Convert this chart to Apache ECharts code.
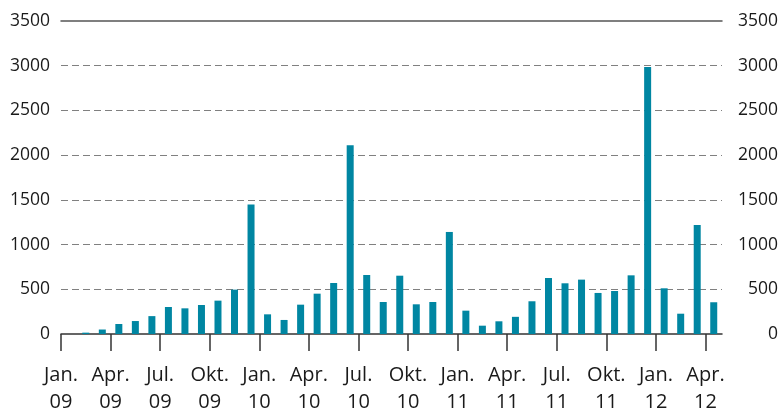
<!DOCTYPE html>
<html>
<head>
<meta charset="UTF-8">
<title>Chart</title>
<script type="text/javascript" src="https://cdn.jsdelivr.net/npm/echarts@6/dist/echarts.min.js"></script>
</head>
<body style="margin:0;background:#fff;">
<div id="box" style="width:779px;height:412px;"></div>

<script type="text/javascript">
// month names and years for the category axis
var monthNames=['Jan.','Feb.','Mär.','Apr.','Mai','Jun.','Jul.','Aug.','Sep.','Okt.','Nov.','Dez.'];
var years=['09','10','11','12'];
var monthCount=40; // Jan 09 .. Apr 12

// monthly values
var values=[0,15,50,112,145,200,302,287,324,373,496,1447,
            220,157,328,451,570,2110,660,358,652,332,358,1141,
            261,93,142,192,366,626,567,608,459,481,656,2987,
            511,227,1219,355];

var yTicks=[0,500,1000,1500,2000,2500,3000,3500];

// categories: one per month (bars), and month boundaries (ticks/labels)
var months=[];
for(var i=0;i<monthCount;i++){
  months.push(monthNames[i%12]+' '+years[Math.floor(i/12)]);
}
var boundaries=months.concat(['']);

var textColor='#1a1a1a';
var font='"Open Sans", sans-serif';

var mychart=echarts.init(document.getElementById('box'));

mychart.setOption({
  animation:false,
  backgroundColor:'#ffffff',
  grid:{left:61,right:57,top:21,bottom:78,outerBoundsMode:'none'},
  xAxis:[{
    type:'category',
    data:months,
    boundaryGap:true,
    show:false,
    position:'bottom'
  },{
    type:'category',
    data:boundaries,
    boundaryGap:false,
    position:'bottom',
    axisLine:{show:true,lineStyle:{color:'#333',width:1.5}},
    axisTick:{show:true,interval:2,length:17,lineStyle:{color:'#333',width:1.5}},
    axisLabel:{
      interval:2,
      margin:28,
      fontSize:20,
      fontWeight:500,
      lineHeight:27,
      color:textColor,
      fontFamily:font,
      formatter:function(v){return v.replace(' ','\n');}
    },
    splitLine:{show:false}
  },{
    type:'category',
    data:months,
    position:'top',
    axisLine:{show:true,onZero:false,lineStyle:{color:'#555',width:1.5}},
    axisTick:{show:false},
    axisLabel:{show:false}
  }],
  yAxis:[{
    type:'value',
    min:yTicks[0],
    max:yTicks[yTicks.length-1],
    interval:500,
    position:'left',
    axisLine:{show:false},
    axisTick:{show:false},
    axisLabel:{margin:11,fontSize:17.5,fontWeight:500,color:textColor,fontFamily:font,
      formatter:function(v){return String(v);}},
    splitLine:{
      show:true,
      showMinLine:false,
      showMaxLine:false,
      lineStyle:{color:'#808080',type:[7,4],width:1}
    }
  },{
    type:'value',
    min:yTicks[0],
    max:yTicks[yTicks.length-1],
    interval:500,
    position:'right',
    axisLine:{show:false},
    axisTick:{show:false},
    axisLabel:{margin:56,align:'right',fontSize:17.5,fontWeight:500,color:textColor,fontFamily:font,
      formatter:function(v){return String(v);}},
    splitLine:{show:false}
  }],
  series:[{
    type:'bar',
    xAxisIndex:0,
    yAxisIndex:0,
    data:values,
    barWidth:7,
    itemStyle:{color:'#0086a2'}
  }]
});
</script>
</body>
</html>
